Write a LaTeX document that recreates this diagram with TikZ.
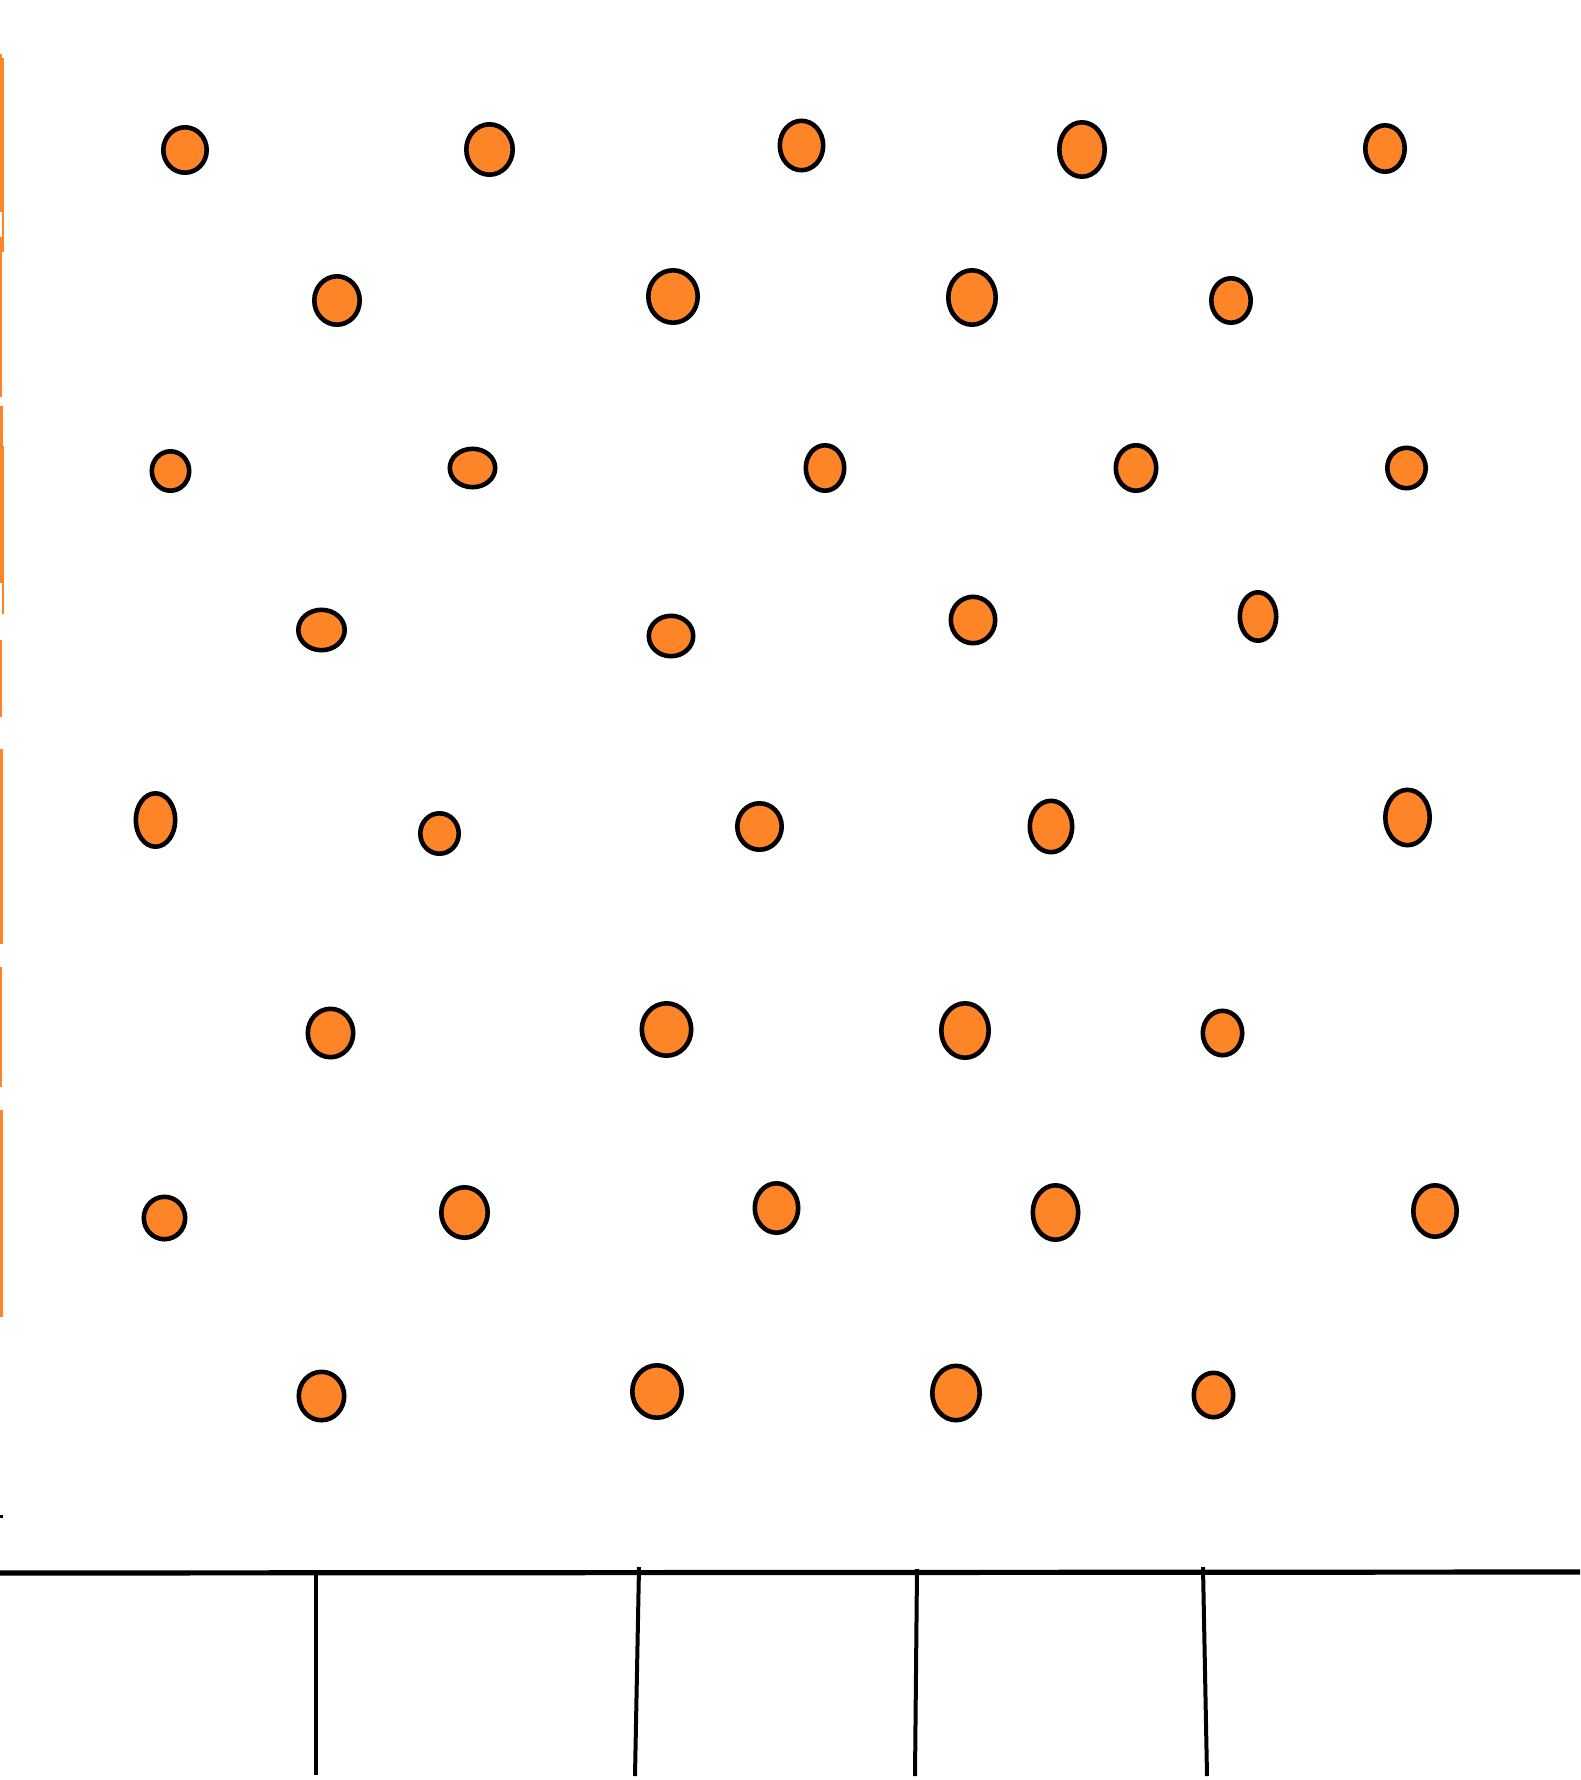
\documentclass[tikz,border=0pt]{standalone}
\definecolor{pegorange}{RGB}{254,132,40}
\tikzset{
  peg/.style={draw=black, fill=pegorange, line width=4.6pt},
  wall/.style={draw=pegorange, line width=2.2pt},
  floorline/.style={draw=black, line width=5.2pt},
  binline/.style={draw=black, line width=4pt}
}
\newcommand{\pegat}[4]{\draw[peg] (#1,#2) ellipse ({#3-2.3} and {#4-2.3});}
\begin{document}
\begin{tikzpicture}[x=1pt,y=-1pt]
\useasboundingbox (0,0) rectangle (1580,1780);
\fill[white] (0,0) rectangle (1580,1780);
% left orange wall strokes
\draw[wall] (1,54) -- (1,212);
\draw[wall, line width=1.4pt] (2.8,58) -- (2.8,252);
\draw[wall] (0.8,237) -- (0.8,397);
\draw[wall, line width=2.6pt] (1.5,406) -- (1.5,583);
\draw[wall, line width=1.4pt] (2.8,446) -- (2.8,614);
\draw[wall] (0.8,640) -- (0.8,717);
\draw[wall, line width=3pt] (1.3,749) -- (1.3,944);
\draw[wall] (0.8,967) -- (0.8,1087);
\draw[wall, line width=3pt] (1.3,1110) -- (1.3,1317);
\draw[black, line width=2.5pt] (0,1516.5) -- (2.5,1516.5);
% row 1
\pegat{185}{150}{24}{25}
\pegat{489.5}{149.5}{25.5}{27.5}
\pegat{801.5}{145.5}{24}{27}
\pegat{1082}{149.5}{25}{29.5}
\pegat{1385}{148.5}{22}{25.5}
% row 2
\pegat{337}{300.5}{25}{26.5}
\pegat{673}{296.5}{27}{28.5}
\pegat{972}{297.5}{26}{29.5}
\pegat{1231}{300.5}{22}{24.5}
% row 3
\pegat{170.5}{471}{21}{22}
\pegat{472.5}{468}{25}{21.5}
\pegat{825}{468}{21.5}{25}
\pegat{1136}{468}{22.5}{25}
\pegat{1406.5}{468}{21.5}{22.5}
% row 4
\pegat{321.5}{630}{25.5}{22.5}
\pegat{671}{636}{24.5}{22.5}
\pegat{973}{620}{24.5}{25.5}
\pegat{1258}{616.5}{20.5}{26.5}
% row 5
\pegat{155.5}{820}{22}{29}
\pegat{439.5}{833.5}{21.5}{22.5}
\pegat{759.5}{826.5}{24.5}{25.5}
\pegat{1051}{826.5}{23.5}{28}
\pegat{1407.5}{817.5}{24.5}{30}
% row 6
\pegat{330.5}{1033}{25}{26.5}
\pegat{666.5}{1029.5}{27}{28.5}
\pegat{965}{1030.5}{26}{29.5}
\pegat{1222.5}{1033}{22}{24.5}
% row 7
\pegat{164.5}{1218}{23}{23.5}
\pegat{464.5}{1212.5}{25.5}{27.5}
\pegat{776.5}{1208}{24}{27}
\pegat{1055.5}{1212.5}{25}{29.5}
\pegat{1435}{1211}{24}{28}
% row 8
\pegat{321.5}{1396}{25}{26.5}
\pegat{657}{1391.5}{27}{28.5}
\pegat{956}{1393}{26}{29.5}
\pegat{1213.5}{1395}{22}{24.5}
% floor and bins
\coordinate (fl) at (0,1573);
\coordinate (fr) at (1580,1572);
\draw[floorline] (fl) -- (fr);
\coordinate (b1t) at (315.5,1575);
\coordinate (b1b) at (315.5,1775);
\coordinate (b2t) at (639,1567);
\coordinate (b2b) at (635,1776);
\coordinate (b3t) at (917,1569);
\coordinate (b3b) at (915,1776);
\coordinate (b4t) at (1203,1567);
\coordinate (b4b) at (1207,1776);
\draw[binline] (b1t) -- (b1b);
\draw[binline] (b2t) -- (b2b);
\draw[binline] (b3t) -- (b3b);
\draw[binline] (b4t) -- (b4b);
\end{tikzpicture}
\end{document}
